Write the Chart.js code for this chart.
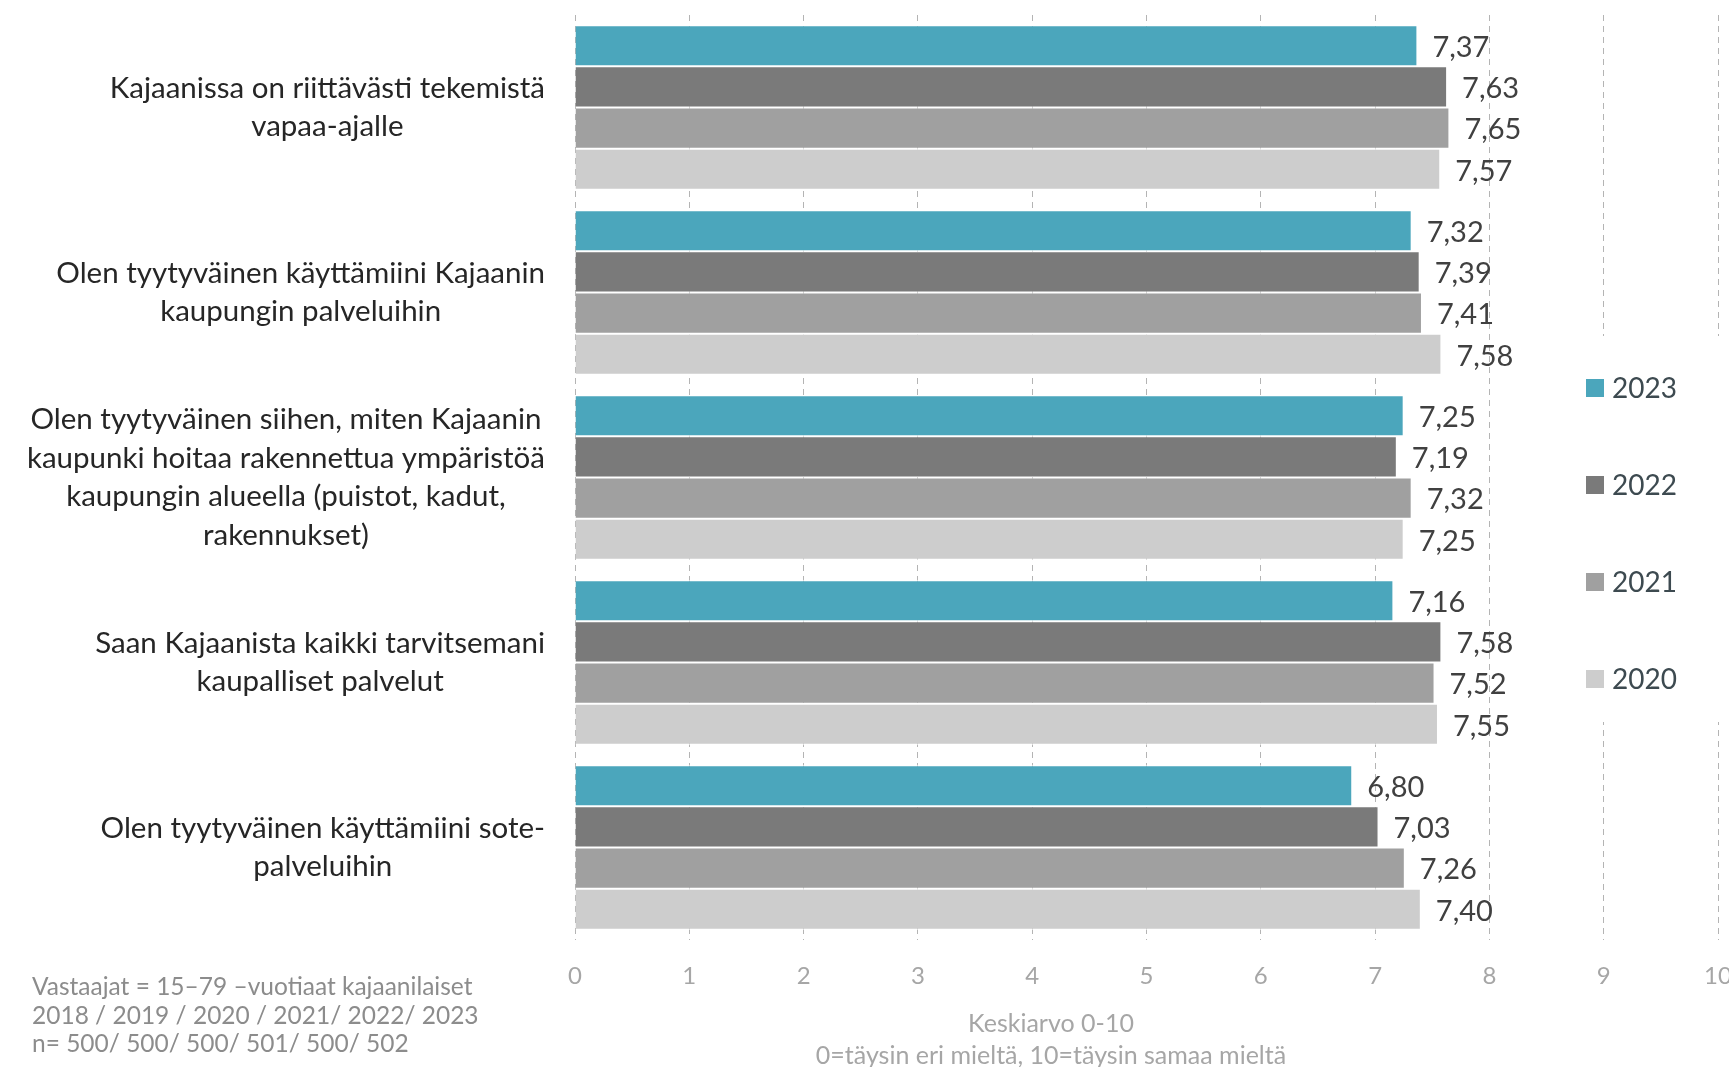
<!DOCTYPE html>
<html>
<head>
<meta charset="utf-8">
<script src="https://cdn.jsdelivr.net/npm/chart.js@4.4.1/dist/chart.umd.min.js"></script>
<style>
    body { margin: 0; background: #fff; overflow: hidden; }
    #wrap { position: relative; width: 1729px; height: 1067px; font-family: Lato, sans-serif; }
    #note { position: absolute; left: 32px; top: 972px; font-size: 24.5px; line-height: 28.5px; color: #8c8c8c; white-space: nowrap; }
    #axisTitle { position: absolute; left: 801px; width: 500px; top: 1006px; text-align: center; font-size: 25px; line-height: 32px; color: #a6a6a6; white-space: nowrap; }
</style>
</head>
<body>
<div id="wrap">
    <canvas id="chart" width="1729" height="1067"></canvas>
    <div id="note">
        <div>Vastaajat = 15–79 –vuotiaat kajaanilaiset</div>
        <div>2018 / 2019 / 2020 / 2021/ 2022/ 2023</div>
        <div>n= 500/ 500/ 500/ 501/ 500/ 502</div>
    </div>
    <div id="axisTitle">
        <div>Keskiarvo 0-10</div>
        <div>0=täysin eri mieltä, 10=täysin samaa mieltä</div>
    </div>
</div>
<script>
const categories = [
    ['Kajaanissa on riittävästi tekemistä', 'vapaa-ajalle'],
    ['Olen tyytyväinen käyttämiini Kajaanin', 'kaupungin palveluihin'],
    ['Olen tyytyväinen siihen, miten Kajaanin', 'kaupunki hoitaa rakennettua ympäristöä', 'kaupungin alueella (puistot, kadut,', 'rakennukset)'],
    ['Saan Kajaanista kaikki tarvitsemani', 'kaupalliset palvelut'],
    ['Olen tyytyväinen käyttämiini sote-', 'palveluihin'],
];
const years = ['2023', '2022', '2021', '2020'];
const values2023 = [7.37, 7.32, 7.25, 7.16, 6.80];
const values2022 = [7.63, 7.39, 7.19, 7.58, 7.03];
const values2021 = [7.65, 7.41, 7.32, 7.52, 7.26];
const values2020 = [7.57, 7.58, 7.25, 7.55, 7.40];
const xTicks = [0, 1, 2, 3, 4, 5, 6, 7, 8, 9, 10];

const colors = ['#4ba6bc', '#7a7a7a', '#a0a0a0', '#cdcdcd'];

function fmt(v) {
    return v.toFixed(2).replace('.', ',');
}

// category labels: right-aligned block, lines centered inside it
const categoryLabels = {
    id: 'categoryLabels',
    afterDraw(chart) {
        const ctx = chart.ctx;
        const y = chart.scales.y;
        const right = 545;
        const lineH = 38.6;
        ctx.save();
        ctx.font = '29.5px Lato';
        ctx.fillStyle = '#262626';
        ctx.textAlign = 'center';
        ctx.textBaseline = 'middle';
        chart.data.labels.forEach((lines, i) => {
            const cy = y.getPixelForValue(i);
            let maxW = 0;
            lines.forEach(l => { maxW = Math.max(maxW, ctx.measureText(l).width); });
            const cx = right - maxW / 2;
            lines.forEach((l, j) => {
                ctx.fillText(l, cx, cy + (j - (lines.length - 1) / 2) * lineH);
            });
        });
        ctx.restore();
    }
};

const valueLabels = {
    id: 'valueLabels',
    afterDatasetsDraw(chart) {
        const ctx = chart.ctx;
        ctx.save();
        ctx.font = '29px Lato';
        ctx.fillStyle = '#404040';
        ctx.textAlign = 'left';
        ctx.textBaseline = 'middle';
        chart.data.datasets.forEach((ds, di) => {
            chart.getDatasetMeta(di).data.forEach((bar, i) => {
                ctx.fillText(fmt(ds.data[i]), bar.x + 15, bar.y + 2);
            });
        });
        ctx.restore();
    }
};

const sideLegend = {
    id: 'sideLegend',
    afterDraw(chart) {
        const ctx = chart.ctx;
        ctx.save();
        ctx.fillStyle = '#ffffff';
        ctx.fillRect(1577, 336, 152, 386);
        ctx.font = '28px Lato';
        ctx.textAlign = 'left';
        ctx.textBaseline = 'middle';
        chart.data.datasets.forEach((ds, i) => {
            const cy = 388 + i * 97;
            ctx.fillStyle = ds.backgroundColor;
            ctx.fillRect(1586, cy - 9, 18, 18);
            ctx.fillStyle = '#3d4a50';
            ctx.fillText(ds.label, 1612, cy + 1);
        });
        ctx.restore();
    }
};

function makeDataset(label, data, color) {
    return {
        label: label,
        data: data,
        backgroundColor: color,
        borderColor: '#ffffff',
        borderWidth: 1,
        borderSkipped: 'start',
        categoryPercentage: 0.89,
        barPercentage: 1.0,
    };
}

const ctx = document.getElementById('chart').getContext('2d');
window.mainChart = new Chart(ctx, {
    type: 'bar',
    data: {
        labels: categories,
        datasets: [
            makeDataset(years[0], values2023, colors[0]),
            makeDataset(years[1], values2022, colors[1]),
            makeDataset(years[2], values2021, colors[2]),
            makeDataset(years[3], values2020, colors[3]),
        ]
    },
    options: {
        indexAxis: 'y',
        responsive: false,
        animation: false,
        devicePixelRatio: 1,
        layout: {
            padding: { left: 575, top: 15, right: 11, bottom: 0 }
        },
        plugins: {
            legend: { display: false },
            tooltip: { enabled: false }
        },
        scales: {
            x: {
                min: 0,
                max: 10,
                afterBuildTicks(scale) {
                    scale.ticks = xTicks.map(v => ({ value: v }));
                },
                afterFit(scale) {
                    scale.height = 127;
                    // let the "10" run off the edge like the original
                    scale.paddingLeft = 0;
                    scale.paddingRight = 0;
                },
                grid: {
                    color: '#b4b4b4',
                    lineWidth: 1,
                    drawTicks: false
                },
                border: { display: false, dash: [6, 5] },
                ticks: {
                    padding: 22,
                    color: '#a6a6a6',
                    font: { family: 'Lato', size: 24 }
                }
            },
            y: {
                display: false
            }
        }
    },
    plugins: [categoryLabels, valueLabels, sideLegend]
});
</script>
</body>
</html>
